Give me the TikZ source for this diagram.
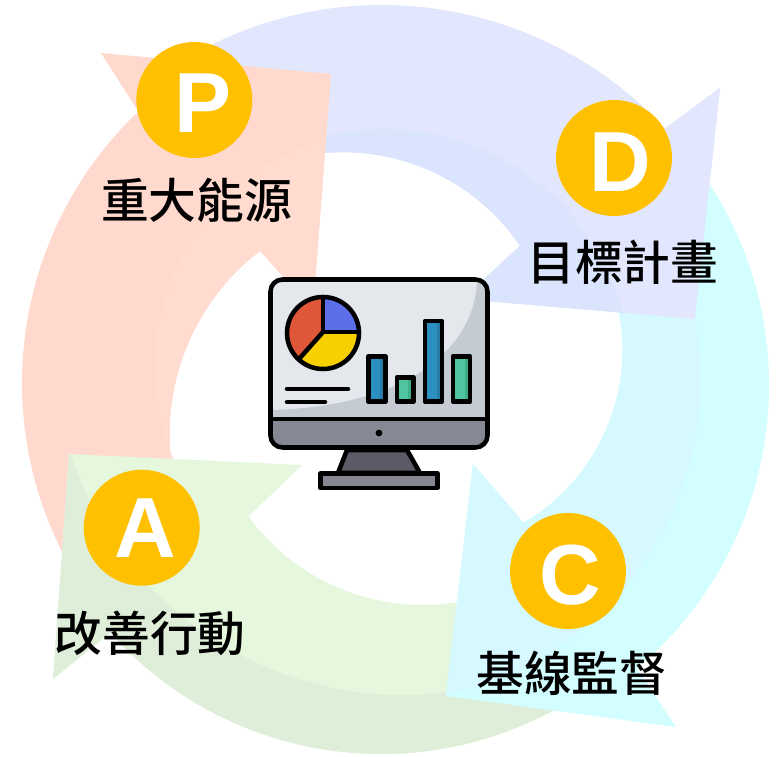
\documentclass[tikz,border=0pt]{standalone}
\usepackage{fontspec}
\usetikzlibrary{calc}
\setmainfont{Liberation Sans}
\newfontfamily\cjkfont{Noto Sans CJK TC Medium}
\definecolor{blueA}{HTML}{E2E7FD}
\definecolor{blueB}{HTML}{DAE4FD}
\definecolor{redA}{HTML}{FFD9CE}
\definecolor{redB}{HTML}{FFDCCF}
\definecolor{greenA}{HTML}{E5F7DD}
\definecolor{greenB}{HTML}{DFEED8}
\definecolor{cyanA}{HTML}{D2FEFF}
\definecolor{cyanB}{HTML}{D5F9FF}
\definecolor{badge}{HTML}{FFC000}
\definecolor{screenA}{HTML}{E4E7EC}
\definecolor{screenB}{HTML}{C5CBD3}
\definecolor{panel}{HTML}{868894}
\definecolor{standc}{HTML}{5C5A67}
\definecolor{pieblue}{HTML}{5D6FE8}
\definecolor{piered}{HTML}{E05639}
\definecolor{pieyellow}{HTML}{F8D000}
\definecolor{barblue}{HTML}{2B8FC0}
\definecolor{barbluedark}{HTML}{2A7CA8}
\definecolor{bargreen}{HTML}{4EC5A0}
\definecolor{bargreendark}{HTML}{3FAE8C}
\tikzset{
  badgecircle/.style={circle,fill=badge,minimum size=87pt,inner sep=0pt},
  badgeletter/.style={inner sep=0pt,text=white,font=\fontsize{64}{64}\selectfont\bfseries},
  cjklabel/.style={inner sep=0pt,text=black,font=\cjkfont\fontsize{35.8}{35.8}\selectfont},
  mon/.style={draw=black,line width=3.4pt,line join=round,line cap=round}
}
% \ringarc{cx}{cy}{R}{start}{end}: line to the start point, then the arc
\newcommand{\ringarc}[5]{-- ($(#1,#2)+(#4:#3)$) arc[start angle=#4,end angle=#5,radius=#3]}
\newcommand{\bluebody}{%
  \fill[blueA] (200,52) \ringarc{382}{390.5}{385.5}{-118.3}{-42.8}
    -- (720,88) -- (695,319) -- (462,299) -- (520,246)
    \ringarc{343}{366.5}{214.3}{-34.2}{-101.8} -- cycle;
  \fill[blueB] (300,146) \ringarc{384}{376}{247}{-110}{-15}
    -- (462,299) -- (520,246)
    \ringarc{343}{366.5}{214.3}{-34.2}{-101.8} -- cycle;
}
\begin{document}
\begin{tikzpicture}[x=0.75pt,y=-0.75pt]
\useasboundingbox (0,0) rectangle (782,757);
% blue arrow
\bluebody
% red arrow
\fill[redA] (101,53) -- (331,74) -- (313,310) -- (260,251)
  \ringarc{401}{434.5}{231.5}{232.5}{170}
  -- (150,480) -- (90,560)
  \ringarc{397}{383}{375}{152.9}{226.4} -- cycle;
\fill[redB] (326,138)
  \ringarc{393}{367}{238}{253.7}{157.3}
  \ringarc{401}{434.5}{231.5}{170}{232.5}
  -- (313,310) -- cycle;
% green arrow
\fill[greenA] (69,454) -- (302,465) -- (249,516)
  \ringarc{423}{388.5}{216.5}{143.8}{74.6}
  -- (560,690)
  \ringarc{381}{391.5}{362.5}{61.5}{138.3}
  -- (53,679) -- cycle;
\fill[greenB] (69,454) -- (53,679) -- (110,633)
  \ringarc{381}{391.5}{362.5}{138.3}{61.5}
  -- (560,690)
  \ringarc{403}{345}{350}{80.6}{161.9} -- cycle;
% cyan arrow
\fill[cyanA] (640,250)
  \ringarc{399}{385}{370}{-35.5}{50}
  -- (676,727) -- (446,696) -- (473,464) -- (524,523)
  \ringarc{422}{350}{200.5}{59.4}{-17.4} -- cycle;
\fill[cyanB] (640,260)
  \ringarc{377}{378.5}{324}{-14}{77.7}
  -- (473,464) -- (524,523)
  \ringarc{422}{350}{200.5}{59.4}{-17.4} -- cycle;
% blue head repainted over the cyan tail
\begin{scope}
  \clip (500,60) rectangle (782,340);
  \bluebody
\end{scope}
% monitor
\fill[screenB, rounded corners=9pt] (270.5,279.5) rectangle (487.5,447.5);
\begin{scope}
  \clip[rounded corners=9pt] (270.5,279.5) rectangle (487.5,447.5);
  \fill[screenA] (270,279) -- (477,279) .. controls (476,340) and (420,405) .. (272,410)
     -- cycle;
  \fill[panel] (270,419) rectangle (488,448);
\end{scope}
\draw[mon, fill=standc] (347,450) -- (407,450) -- (420,473) -- (338,473) -- cycle;
\draw[mon, fill=panel] (320.5,473.5) rectangle (437.5,488);
\draw[mon, rounded corners=9pt] (270.5,279.5) rectangle (487.5,447.5);
\draw[mon] (270.5,419) -- (487.5,419);
\fill[black] (379,433) circle[radius=3.4];
% pie
\fill[piered] (323,333) circle[radius=36];
\fill[pieblue] (323,332) -- (323,297) arc[start angle=-90,end angle=0,radius=35] -- cycle;
\fill[pieyellow] (323,332) -- (359,332) arc[start angle=0,end angle=132,radius=36] -- cycle;
\draw[mon] (323,333) circle[radius=36];
\draw[mon] (323,297) -- (323,332) -- (359,332);
\draw[mon] (323,332) -- (299,359);
\draw[mon] (287,389) -- (348,389);
\draw[mon] (287,402) -- (325,402);
% bars
\fill[barblue] (368.3,356.3) rectangle (385.3,401.7);
\fill[barbluedark] (380,356.3) rectangle (385.3,401.7);
\draw[mon] (368.3,356.3) rectangle (385.3,401.7);
\fill[bargreen] (397,377.3) rectangle (413.3,401.7);
\fill[bargreendark] (408,377.3) rectangle (413.3,401.7);
\draw[mon] (397,377.3) rectangle (413.3,401.7);
\fill[barblue] (425,321) rectangle (442,401.7);
\fill[barbluedark] (437,321) rectangle (442,401.7);
\draw[mon] (425,321) rectangle (442,401.7);
\fill[bargreen] (453,356.3) rectangle (470,401.7);
\fill[bargreendark] (465,356.3) rectangle (470,401.7);
\draw[mon] (453,356.3) rectangle (470,401.7);
% badges and labels
\node[badgecircle] (P) at (194.3,100) {};
\node[badgecircle] (D) at (614,158) {};
\node[badgecircle] (A) at (141.7,527.7) {};
\node[badgecircle] (C) at (568,571) {};
\node[badgeletter] (lP) at (203,103.5) {P};
\node[badgeletter] (lD) at (620,162) {D};
\node[badgeletter] (lA) at (145,528) {A};
\node[badgeletter] (lC) at (570.5,575) {C};
\node[cjklabel] (tP) at (196.7,200.8) {重大能源};
\node[cjklabel] (tD) at (622.8,262.5) {目標計畫};
\node[cjklabel] (tA) at (150,633) {改善行動};
\node[cjklabel] (tC) at (571.8,673) {基線監督};
\end{tikzpicture}
\end{document}
